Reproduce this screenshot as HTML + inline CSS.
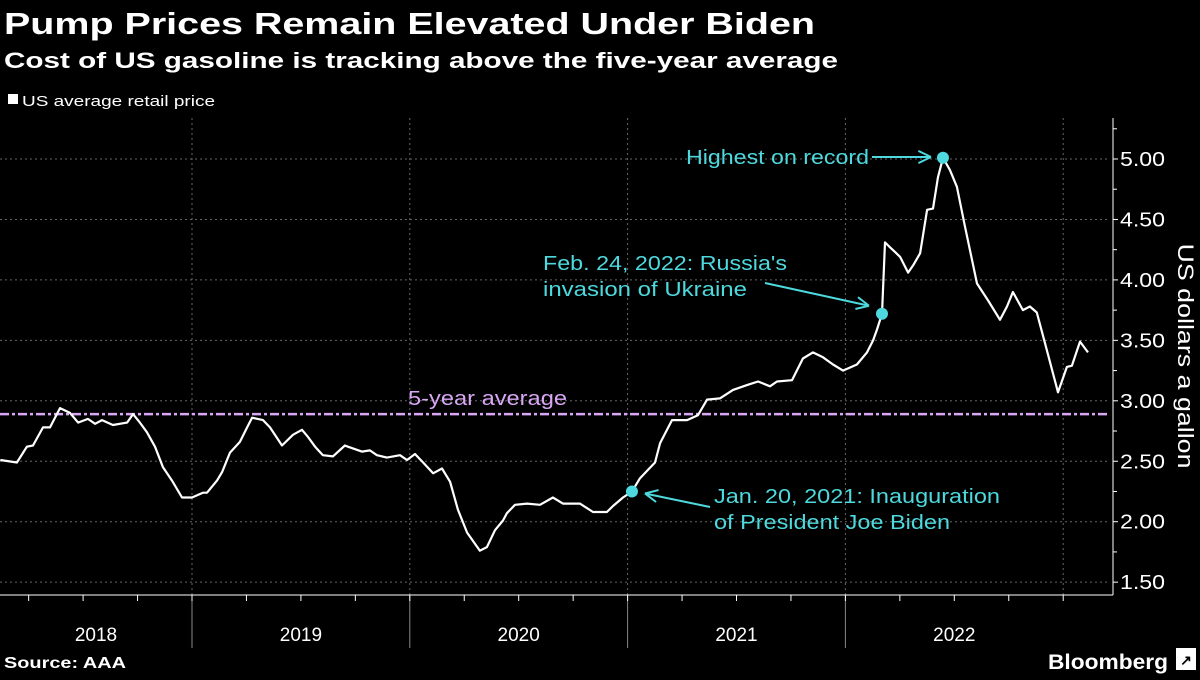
<!DOCTYPE html>
<html><head><meta charset="utf-8"><style>
body{margin:0;background:#000;width:1200px;height:675px;overflow:hidden;font-family:"Liberation Sans",sans-serif}
svg text{font-family:"Liberation Sans",sans-serif}
</style></head><body>
<svg id="c" width="1200" height="675" xmlns="http://www.w3.org/2000/svg">
<text x="4" y="34" fill="#fff" font-size="31" font-weight="bold" textLength="811" lengthAdjust="spacingAndGlyphs">Pump Prices Remain Elevated Under Biden</text>
<text x="4" y="68" fill="#fff" font-size="22" font-weight="bold" textLength="834" lengthAdjust="spacingAndGlyphs">Cost of US gasoline is tracking above the five-year average</text>
<g><rect x="8" y="94" width="10" height="10" fill="#fff"/><text x="22" y="106" fill="#fff" font-size="15" textLength="193" lengthAdjust="spacingAndGlyphs">US average retail price</text></g>
<g id="grid"></g><g id="axes"></g><g id="plot"></g>
<text x="4" y="668" fill="#fff" font-size="16" font-weight="bold" textLength="122" lengthAdjust="spacingAndGlyphs">Source: AAA</text>
<text x="1048" y="669" fill="#fff" font-size="21" font-weight="bold" textLength="120" lengthAdjust="spacingAndGlyphs">Bloomberg</text>
<rect x="1176" y="648" width="20" height="22" fill="#fff"/>
<text x="1186" y="665" fill="#000" font-size="14" font-weight="bold" text-anchor="middle">↗</text>
</svg>
<script>
const dates=[2018.12,2018.196,2018.242,2018.27,2018.316,2018.348,2018.394,2018.44,2018.477,2018.522,2018.555,2018.587,2018.637,2018.702,2018.729,2018.761,2018.793,2018.83,2018.867,2018.908,2018.954,2019.0,2019.05,2019.069,2019.115,2019.138,2019.174,2019.22,2019.253,2019.276,2019.326,2019.358,2019.413,2019.464,2019.505,2019.533,2019.565,2019.601,2019.647,2019.702,2019.716,2019.78,2019.817,2019.849,2019.895,2019.955,2019.987,2020.024,2020.061,2020.107,2020.148,2020.185,2020.221,2020.263,2020.322,2020.354,2020.391,2020.428,2020.446,2020.483,2020.538,2020.598,2020.657,2020.703,2020.781,2020.841,2020.905,2020.933,2020.979,2021.02,2021.057,2021.126,2021.149,2021.204,2021.273,2021.323,2021.365,2021.424,2021.484,2021.548,2021.599,2021.654,2021.686,2021.755,2021.805,2021.851,2021.897,2021.943,2021.989,2022.053,2022.099,2022.127,2022.145,2022.168,2022.182,2022.205,2022.228,2022.251,2022.288,2022.311,2022.343,2022.375,2022.402,2022.425,2022.448,2022.48,2022.512,2022.549,2022.604,2022.655,2022.71,2022.742,2022.769,2022.815,2022.847,2022.879,2022.916,2022.976,2023.017,2023.04,2023.077,2023.114];
const prices=[2.51,2.49,2.62,2.63,2.78,2.78,2.94,2.90,2.82,2.85,2.81,2.84,2.80,2.82,2.89,2.82,2.74,2.62,2.45,2.34,2.20,2.20,2.24,2.24,2.34,2.41,2.57,2.66,2.78,2.86,2.84,2.78,2.63,2.72,2.76,2.70,2.62,2.55,2.54,2.63,2.62,2.58,2.59,2.55,2.53,2.55,2.51,2.56,2.49,2.40,2.44,2.33,2.10,1.91,1.76,1.79,1.93,2.01,2.07,2.14,2.15,2.14,2.20,2.15,2.15,2.08,2.08,2.13,2.20,2.25,2.36,2.49,2.65,2.84,2.84,2.88,3.01,3.02,3.09,3.13,3.16,3.12,3.16,3.17,3.35,3.40,3.36,3.30,3.25,3.30,3.40,3.50,3.59,3.72,4.31,4.27,4.23,4.19,4.06,4.12,4.22,4.58,4.59,4.85,5.01,4.91,4.77,4.44,3.97,3.83,3.67,3.78,3.90,3.75,3.78,3.73,3.48,3.07,3.28,3.29,3.49,3.40];
const yTicks=[1.5,2,2.5,3,3.5,4,4.5,5];
const yearLabels=["2018","2019","2020","2021","2022"];
const yearStarts=[2018,2019,2020,2021,2022,2023];
const fiveYearAvg=[2.89];
const events=[{t:2021.02,v:2.25},{t:2022.168,v:3.72},{t:2022.448,v:5.01}];
const NS="http://www.w3.org/2000/svg";
const X=t=>192+(t-2019)*217.8, Y=v=>159+(5-v)*120.9;
function mk(tag,a,p){const e=document.createElementNS(NS,tag);for(const k in a)e.setAttribute(k,a[k]);p.appendChild(e);return e;}
const grid=document.getElementById('grid'),axes=document.getElementById('axes'),plot=document.getElementById('plot');
yTicks.forEach(v=>{
 const l=mk('line',{x1:0,x2:1110,y1:Y(v),y2:Y(v),stroke:'#666','stroke-dasharray':'2,3'},grid);
 
 
 mk('line',{x1:1113,x2:1118,y1:Y(v),y2:Y(v),stroke:'#fff'},axes);
 const t=mk('text',{x:1120,y:Y(v)+7,fill:'#fff','font-size':20,textLength:45,lengthAdjust:'spacingAndGlyphs'},axes);t.textContent=v.toFixed(2);
 
 
});
for(let v=1.75;v<5.3;v+=0.5)mk('line',{x1:1113,x2:1117,y1:Y(v),y2:Y(v),stroke:'#fff'},axes);
mk('line',{x1:1113,x2:1113,y1:118,y2:595,stroke:'#fff'},axes);
mk('line',{x1:0,x2:1113,y1:595,y2:595,stroke:'#fff'},axes);
yearStarts.forEach(y=>{
 const x=X(y);
 if(x>0&&y>2018){const g=mk('line',{x1:x,x2:x,y1:118,y2:595,stroke:'#666','stroke-dasharray':'2,3'},grid);
 
 
 if(y<2023)mk('line',{x1:x,x2:x,y1:595,y2:648,stroke:'#888'},axes);}
 for(let q=0;q<4;q++){const xq=X(y+q*0.25);if(xq>0&&xq<1110)mk('line',{x1:xq,x2:xq,y1:595,y2:601,stroke:'#fff'},axes);}
});
yearLabels.forEach((s,i)=>{
 const a=Math.max(0,X(yearStarts[i])),b=X(yearStarts[i+1]);
 const t=mk('text',{x:(a+b)/2,y:641,fill:'#fff','font-size':19,'text-anchor':'middle'},axes);t.textContent=s;
 
 
});
const at=mk('text',{transform:'translate(1178,356) rotate(90)',fill:'#fff','font-size':22,'text-anchor':'middle',textLength:225,lengthAdjust:'spacingAndGlyphs'},axes);at.textContent='US dollars a gallon';


const avg=mk('line',{x1:0,x2:1110,y1:Y(fiveYearAvg[0]),y2:Y(fiveYearAvg[0]),stroke:'#d9a6f5','stroke-width':2.5,'stroke-dasharray':'9,3,3,3'},plot);


const al=mk('text',{x:408,y:405,fill:'#d9a6f5','font-size':20,textLength:159,lengthAdjust:'spacingAndGlyphs'},plot);al.textContent='5-year average';


const line=mk('path',{d:dates.map((t,i)=>(i?'L':'M')+X(t).toFixed(1)+','+Y(prices[i]).toFixed(1)).join(''),fill:'none',stroke:'#fff','stroke-width':2.2,'stroke-linejoin':'round'},plot);


const C='#4dd9dd';
function arrow(x1,y1,x2,y2){mk('line',{x1,y1,x2,y2,stroke:C,'stroke-width':2},plot);const a=Math.atan2(y2-y1,x2-x1),L=14;
 [0.45,-0.45].forEach(d=>mk('line',{x1:x2,y1:y2,x2:x2-L*Math.cos(a+d),y2:y2-L*Math.sin(a+d),stroke:C,'stroke-width':2},plot));}
function txt(s,x,y,w,anchor){const t=mk('text',{x,y,fill:C,'font-size':20,'text-anchor':anchor||'start',textLength:w,lengthAdjust:'spacingAndGlyphs'},plot);t.textContent=s;
 
 }
events.forEach(e=>{const d=mk('circle',{cx:X(e.t),cy:Y(e.v),r:6,fill:C},plot);
 
 });
const e0=events[0],e1=events[1],e2=events[2];
arrow(710,507,X(e0.t)+13,Y(e0.v)+2);txt('Jan. 20, 2021: Inauguration',714,503,286);txt('of President Joe Biden',714,529,236);
arrow(765,283,X(e1.t)-13,Y(e1.v)-8);txt("Feb. 24, 2022: Russia's",543,270,244);txt('invasion of Ukraine',543,296,204);
arrow(872,157,X(e2.t)-12,157);txt('Highest on record',869,164,183,'end');
</script>
</body></html>
